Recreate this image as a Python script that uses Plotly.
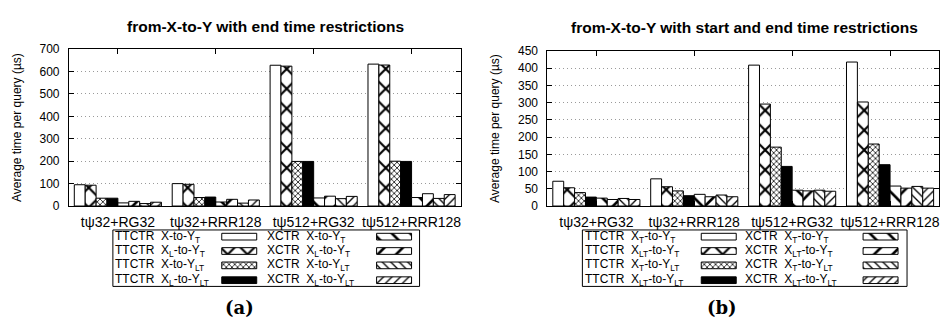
import plotly.graph_objects as go

W, H = 940, 325

categories = ["tψ32+RG32", "tψ32+RRR128", "tψ512+RG32", "tψ512+RRR128"]

# (a) from-X-to-Y with end time restrictions
a_ttctr_x_yt = [95, 100, 628, 633]
a_ttctr_xl_yt = [93, 97, 624, 629]
a_ttctr_x_ylt = [35, 38, 199, 200]
a_ttctr_xl_ylt = [35, 40, 199, 199]
a_xctr_x_yt = [14, 18, 36, 38]
a_xctr_xl_yt = [21, 30, 44, 55]
a_xctr_x_ylt = [11, 13, 33, 34]
a_xctr_xl_ylt = [17, 27, 43, 51]

# (b) from-X-to-Y with start and end time restrictions
b_ttctr_x_yt = [72, 79, 409, 418]
b_ttctr_xl_yt = [53, 56, 296, 302]
b_ttctr_x_ylt = [39, 44, 171, 180]
b_ttctr_xl_ylt = [26, 30, 115, 120]
b_xctr_x_yt = [23, 34, 46, 58]
b_xctr_xl_yt = [19, 27, 44, 52]
b_xctr_x_ylt = [22, 32, 46, 57]
b_xctr_xl_ylt = [19, 27, 43, 52]

a_names = ["X-to-Y<sub>T</sub>", "X<sub>L</sub>-to-Y<sub>T</sub>",
           "X-to-Y<sub>LT</sub>", "X<sub>L</sub>-to-Y<sub>LT</sub>"]
b_names = ["X<sub>T</sub>-to-Y<sub>T</sub>", "X<sub>LT</sub>-to-Y<sub>T</sub>",
           "X<sub>T</sub>-to-Y<sub>LT</sub>", "X<sub>LT</sub>-to-Y<sub>LT</sub>"]

a_ttctr = [a_ttctr_x_yt, a_ttctr_xl_yt, a_ttctr_x_ylt, a_ttctr_xl_ylt]
a_xctr = [a_xctr_x_yt, a_xctr_xl_yt, a_xctr_x_ylt, a_xctr_xl_ylt]
b_ttctr = [b_ttctr_x_yt, b_ttctr_xl_yt, b_ttctr_x_ylt, b_ttctr_xl_ylt]
b_xctr = [b_xctr_x_yt, b_xctr_xl_yt, b_xctr_x_ylt, b_xctr_xl_ylt]

# fill styles (color, pattern shape, pattern size, solidity)
ttctr_styles = [("white", "", 8, 0.2), ("white", "x", 14, 0.28),
                ("white", "x", 4, 0.35), ("black", "", 8, 0.2)]
xctr_styles = [("white", "\\", 13, 0.2), ("white", "/", 13, 0.2),
               ("white", "\\", 6, 0.22), ("white", "/", 6, 0.22)]

FONT = "Liberation Sans, Arial, sans-serif"
NB = "\u00a0"

def px(x):
    return x / W

def py(y):
    return 1 - y / H

def marker_for(style):
    color, shape, size, sol = style
    return dict(color=color, line=dict(color="black", width=1),
                pattern=dict(shape=shape, size=size, solidity=sol, fgcolor="black",
                             bgcolor=color, fillmode="replace"))

fig = go.Figure()

def add_series(vals, name, style, xa, ya):
    fig.add_trace(go.Bar(x=categories, y=vals, name=name, xaxis=xa, yaxis=ya,
                         marker=marker_for(style), showlegend=False, hoverinfo="y"))

for i in range(4):
    add_series(a_ttctr[i], "TTCTR " + a_names[i], ttctr_styles[i], "x", "y")
for i in range(4):
    add_series(a_xctr[i], "XCTR " + a_names[i], xctr_styles[i], "x", "y")
for i in range(4):
    add_series(b_ttctr[i], "TTCTR " + b_names[i], ttctr_styles[i], "x2", "y2")
for i in range(4):
    add_series(b_xctr[i], "XCTR " + b_names[i], xctr_styles[i], "x2", "y2")

# ---- legend (key box) drawn on a hidden full-figure pixel axis ----
ROW_Y = [240, 255, 270, 285.5]
SW_W, SW_H = 35, 7
# swatch starts: (panel a col1, panel b col1) and (panel a col2, panel b col2)
SW_X_COL1 = [222, 702]
SW_X_COL2 = [377, 864]
TXT_X_COL1 = [113, 584]
TXT_X_COL2 = [265, 744]

annotations = []
for i in range(4):
    for col, styles, sw_x, names_prefix in (
            (1, ttctr_styles, SW_X_COL1, "TTCTR"), (2, xctr_styles, SW_X_COL2, "XCTR")):
        fig.add_trace(go.Bar(
            orientation="h", y=[ROW_Y[i], ROW_Y[i]], x=[SW_W, SW_W], base=sw_x,
            width=SW_H, offset=-SW_H / 2, xaxis="x3", yaxis="y3",
            marker=marker_for(styles[i]), showlegend=False, hoverinfo="skip"))
    txt_sets = ((TXT_X_COL1, "TTCTR"), (TXT_X_COL2, "XCTR"))
    for tx, prefix in txt_sets:
        for p, names in enumerate((a_names, b_names)):
            annotations.append(dict(
                text=prefix + NB + NB + names[i], xref="x3", yref="y3",
                x=tx[p], y=ROW_Y[i], showarrow=False, xanchor="left", yanchor="middle",
                font=dict(family=FONT, size=12, color="black")))

axis_common = dict(showline=True, linecolor="black", linewidth=1, mirror="allticks",
                   ticks="inside", tickcolor="black", ticklen=5,
                   tickfont=dict(family=FONT, size=12, color="black"))

xa = dict(axis_common, showgrid=False, tickfont=dict(family=FONT, size=14, color="black"),
          ticklabelstandoff=3, type="category")
ya = dict(axis_common, showgrid=True, gridcolor="#9a9a9a", griddash="1px,3px", gridwidth=1,
          zeroline=False, ticklabelstandoff=6,
          title=dict(text="Average time per query (µs)",
                     font=dict(family=FONT, size=12, color="black")))

annotations += [
    dict(text="<b>from-X-to-Y with end time restrictions</b>", xref="paper", yref="paper",
         x=px(266), y=py(20), showarrow=False, xanchor="center", yanchor="middle",
         font=dict(family=FONT, size=15.5, color="black")),
    dict(text="<b>from-X-to-Y with start and end time restrictions</b>", xref="paper",
         yref="paper", x=px(745), y=py(21), showarrow=False, xanchor="center",
         yanchor="middle", font=dict(family=FONT, size=15.5, color="black")),
    dict(text="<b>(a)</b>", xref="paper", yref="paper", x=px(240), y=py(314),
         showarrow=False, xanchor="center", yanchor="middle",
         font=dict(family="DejaVu Serif, serif", size=18, color="black")),
    dict(text="<b>(b)</b>", xref="paper", yref="paper", x=px(723), y=py(314),
         showarrow=False, xanchor="center", yanchor="middle",
         font=dict(family="DejaVu Serif, serif", size=18, color="black")),
]

fig.update_layout(
    width=W, height=H, margin=dict(l=0, r=0, t=0, b=0),
    paper_bgcolor="white", plot_bgcolor="rgba(0,0,0,0)",
    barmode="group", bargap=0.11, bargroupgap=0,
    showlegend=False,
    xaxis=dict(xa, domain=[px(69), px(461)], anchor="y"),
    yaxis=dict(ya, domain=[py(208), py(44)], range=[0, 700], dtick=100, anchor="x"),
    xaxis2=dict(xa, domain=[px(548), 1.0], anchor="y2"),
    yaxis2=dict(ya, domain=[py(208), py(46)], range=[0, 450], dtick=50, anchor="x2"),
    xaxis3=dict(domain=[0, 1], range=[0, W], visible=False, fixedrange=True, anchor="y3"),
    yaxis3=dict(domain=[0, 1], range=[H, 0], visible=False, fixedrange=True, anchor="x3"),
    shapes=[
        dict(type="rect", xref="paper", yref="paper", x0=px(113), x1=px(420),
             y0=py(292), y1=py(233), line=dict(color="black", width=1)),
        dict(type="rect", xref="paper", yref="paper", x0=px(583), x1=px(908),
             y0=py(292), y1=py(233), line=dict(color="black", width=1)),
    ],
    annotations=annotations,
)

fig.write_html("out.html")
